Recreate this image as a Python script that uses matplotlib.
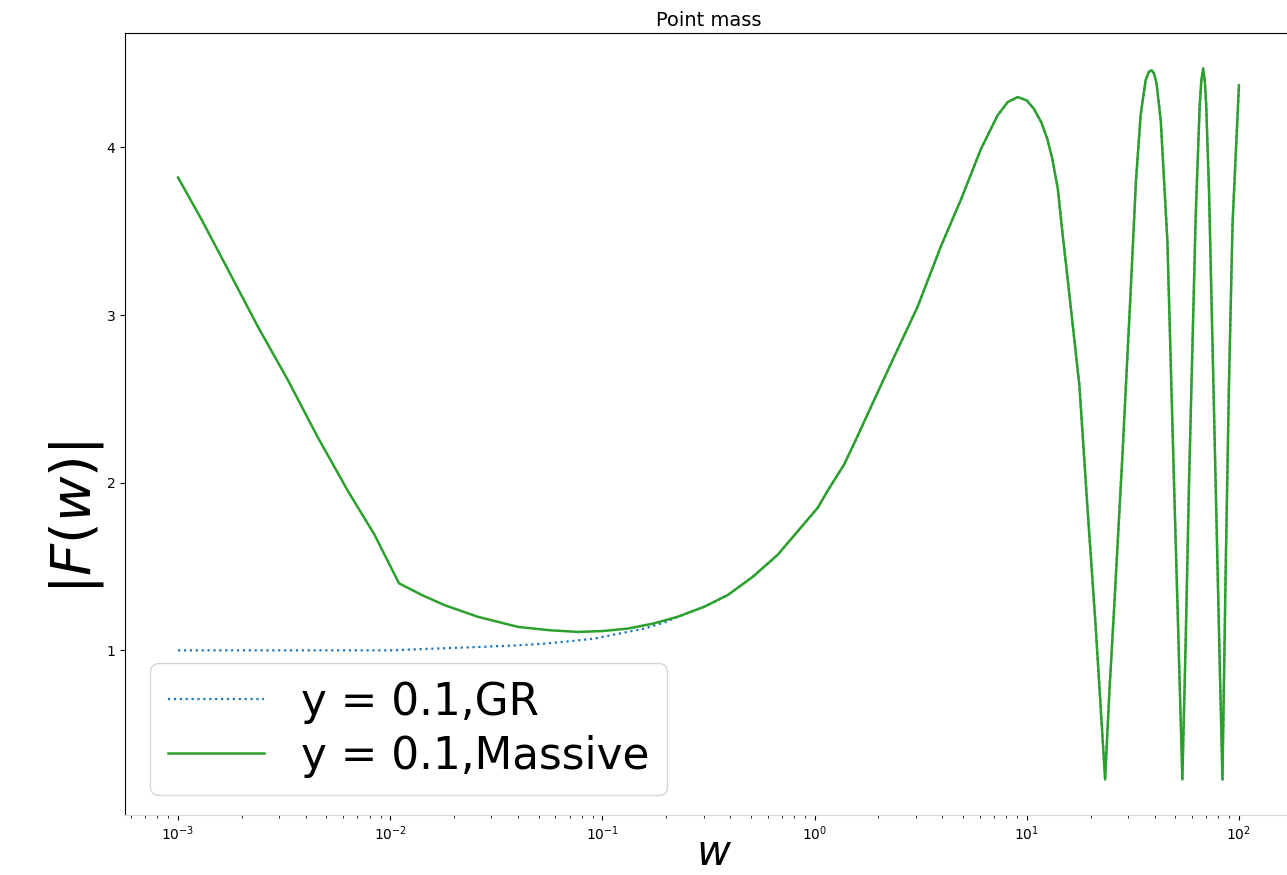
import numpy as np
import matplotlib
matplotlib.use("Agg")
import matplotlib.pyplot as plt

# Massive gravity curve, y = 0.1
massive_w = [0.00100, 0.00129, 0.00172, 0.00238, 0.00330, 0.00456, 0.00632, 0.00843,
             0.0110, 0.0141, 0.0180, 0.0259, 0.0400, 0.0562, 0.0766, 0.100, 0.132,
             0.174, 0.226, 0.302, 0.390, 0.513, 0.670, 1.034, 1.15, 1.38, 1.57, 1.78, 2.29,
             3.06, 3.94, 4.90, 6.08, 7.28, 8.13, 9.06, 10.0, 10.8, 11.7, 12.5, 13.2, 14.0,
             14.7, 15.6, 17.7, 19.3, 21.1, 22.4, 23.4, 24.5, 25.8, 28.2, 30.9, 32.7, 34.4,
             36.3, 37.6, 38.8, 39.8, 40.9, 42.8, 46.0, 49.4, 51.9, 54.1, 56.2, 58.2, 62.5,
             65.3, 66.5, 67.8, 69.0, 70.1, 72.3, 77.6, 80.9, 83.6, 86.5, 89.7, 93.3, 100.0]
massive_F = [3.82, 3.57, 3.27, 2.93, 2.61, 2.27, 1.95, 1.69,
             1.40, 1.33, 1.27, 1.20, 1.14, 1.12, 1.11, 1.115, 1.13,
             1.16, 1.20, 1.26, 1.33, 1.44, 1.57, 1.85, 1.95, 2.11, 2.26, 2.41, 2.71,
             3.05, 3.41, 3.69, 3.99, 4.19, 4.27, 4.30, 4.28, 4.23, 4.15, 4.05, 3.93, 3.755,
             3.50, 3.21, 2.58, 1.86, 1.15, 0.62, 0.23, 0.75, 1.25, 2.15, 3.15, 3.80, 4.19,
             4.40, 4.45, 4.46, 4.44, 4.38, 4.16, 3.44, 2.01, 1.05, 0.23, 1.10, 2.01, 3.58,
             4.25, 4.40, 4.47, 4.40, 4.25, 3.73, 2.01, 1.00, 0.23, 1.45, 2.58, 3.55, 4.37]

# GR curve, y = 0.1: low-frequency part (beyond w ~ 0.23 it lies under the massive curve)
gr_w_low = [0.00100, 0.00316, 0.0100, 0.0158, 0.0259, 0.0400, 0.0533, 0.0708,
            0.0918, 0.120, 0.158, 0.200]
gr_F_low = [1.00, 1.00, 1.00, 1.01, 1.02, 1.03, 1.04, 1.055,
            1.07, 1.10, 1.13, 1.17]

gr_w = gr_w_low + [w for w in massive_w if w >= 0.226]
gr_F = gr_F_low + [f for w, f in zip(massive_w, massive_F) if w >= 0.226]

fig = plt.figure(figsize=(12.87, 8.75), dpi=100)
ax = fig.add_axes([125 / 1287, 1 - 815 / 875, 1167 / 1287, 782 / 875])

ax.plot(gr_w, gr_F, ":", color="C0", lw=1.6, label="y = 0.1,GR")
ax.plot(massive_w, massive_F, "-", color="tab:green", lw=1.8, label="y = 0.1,Massive")
ax.set_xscale("log")

ax.set_title("Point mass", fontsize=14, pad=5)
ax.set_xlabel("$w$", fontsize=30)
ax.xaxis.set_label_coords(0.505, -0.022)
ax.set_ylabel("$|F(w)|$", fontsize=40)
ax.yaxis.set_label_coords(-0.016, 0.38)
ax.tick_params(labelsize=10)
ax.spines["bottom"].set_color("#d8d8d8")

ax.legend(loc="lower left", fontsize=31.5, bbox_to_anchor=(25 / 1167, 20 / 782),
          borderaxespad=0, handlelength=2.2, handletextpad=0.85, labelspacing=0.25)

fig.savefig("out.png", dpi=100)
